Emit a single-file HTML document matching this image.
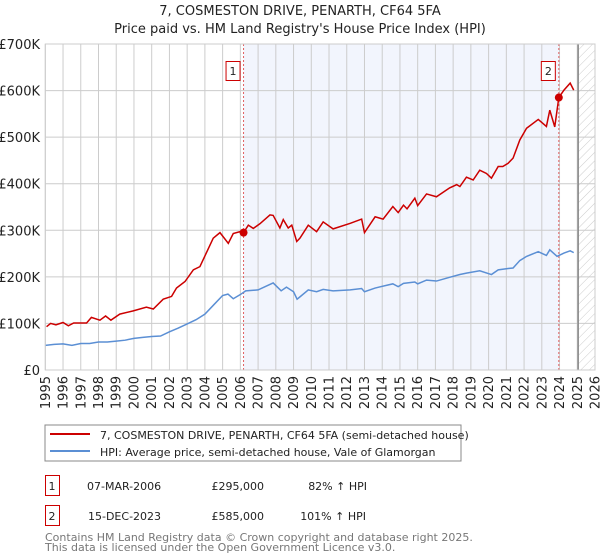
<!DOCTYPE html>
<html><head><meta charset="utf-8">
<style>
body{margin:0;background:#fff;width:600px;height:560px;overflow:hidden;font-family:"DejaVu Sans","Liberation Sans",sans-serif;}
svg{position:absolute;left:0;top:0}
text{font-family:"DejaVu Sans","Liberation Sans",sans-serif;}
</style></head>
<body>
<svg id="chart" width="600" height="560">
<defs>
<pattern id="hatch" width="6" height="6" patternUnits="userSpaceOnUse" patternTransform="rotate(45)">
<line x1="0" y1="0" x2="0" y2="6" stroke="#ccc" stroke-width="1"/>
</pattern>
</defs>
<text x="300" y="15" text-anchor="middle" font-size="13" fill="#222">7, COSMESTON DRIVE, PENARTH, CF64 5FA</text>
<text x="300" y="33" text-anchor="middle" font-size="13" fill="#222">Price paid vs. HM Land Registry's House Price Index (HPI)</text>
<g id="plot"></g>
<rect x="45" y="425" width="416" height="36" fill="#fff" stroke="#888"/>
<line x1="50" y1="434" x2="90" y2="434" stroke="#cc0000" stroke-width="2"/>
<text x="100" y="439" font-size="11" fill="#222">7, COSMESTON DRIVE, PENARTH, CF64 5FA (semi-detached house)</text>
<line x1="50" y1="451" x2="90" y2="451" stroke="#5b8fd4" stroke-width="2"/>
<text x="100" y="456" font-size="11" fill="#222">HPI: Average price, semi-detached house, Vale of Glamorgan</text>
<g>
<rect x="45.5" y="475.5" width="14" height="20" fill="#fff" stroke="#cc0000"/>
<text x="52" y="490" font-size="11" text-anchor="middle" fill="#222">1</text>
<text x="87" y="490" font-size="11" fill="#222">07-MAR-2006</text>
<text x="264" y="490" font-size="11" text-anchor="end" fill="#222">£295,000</text>
<text x="367" y="490" font-size="11" text-anchor="end" fill="#222">82% ↑ HPI</text>
</g>
<g>
<rect x="45.5" y="505.5" width="14" height="20" fill="#fff" stroke="#cc0000"/>
<text x="52" y="520" font-size="11" text-anchor="middle" fill="#222">2</text>
<text x="88" y="520" font-size="11" fill="#222">15-DEC-2023</text>
<text x="264" y="520" font-size="11" text-anchor="end" fill="#222">£585,000</text>
<text x="366" y="520" font-size="11" text-anchor="end" fill="#222">101% ↑ HPI</text>
</g>
<text x="45" y="541" font-size="11" fill="#777">Contains HM Land Registry data © Crown copyright and database right 2025.</text>
<text x="45" y="551" font-size="11" fill="#777">This data is licensed under the Open Government Licence v3.0.</text>
</svg>
<script>
const yTicks=[0,100,200,300,400,500,600,700];
const yTickLabels=["£0","£100K","£200K","£300K","£400K","£500K","£600K","£700K"];
const xYears=[1995,1996,1997,1998,1999,2000,2001,2002,2003,2004,2005,2006,2007,2008,2009,2010,2011,2012,2013,2014,2015,2016,2017,2018,2019,2020,2021,2022,2023,2024,2025,2026];
const saleYears=[2006.18,2023.96];
const saleValues=[295,585];
const saleLabels=["1","2"];
const dataEndYear=2025.05;
const redYears=[1995.07,1995.3,1995.6,1996.0,1996.3,1996.6,1997.33,1997.6,1998.08,1998.4,1998.7,1999.2,1999.96,2000.7,2001.09,2001.65,2002.12,2002.4,2002.88,2003.35,2003.72,2004.47,2004.85,2005.32,2005.6,2005.98,2006.18,2006.45,2006.73,2007.1,2007.67,2007.85,2008.23,2008.42,2008.7,2008.9,2009.18,2009.36,2009.83,2010.3,2010.67,2011.23,2012.2,2012.84,2013.0,2013.6,2014.05,2014.6,2014.9,2015.2,2015.4,2015.84,2016.0,2016.5,2017.06,2017.8,2018.2,2018.38,2018.75,2019.13,2019.5,2019.88,2020.16,2020.54,2020.8,2021.1,2021.38,2021.76,2022.14,2022.8,2023.26,2023.45,2023.73,2023.96,2024.25,2024.6,2024.8];
const redValues=[93,100,97,102,95,101,101,113,107,116,107,120,127,135,131,152,158,176,190,215,222,283,295,272,293,297,295,311,304,314,333,332,305,323,305,311,276,283,311,297,318,303,315,324,295,329,324,351,338,354,346,369,353,378,372,391,398,394,414,408,429,422,412,437,437,444,455,494,519,538,523,558,522,585,601,616,601];
const blueYears=[1995,1995.5,1996,1996.5,1997,1997.5,1998,1998.5,1999,1999.5,2000,2000.5,2001,2001.5,2002,2002.5,2003,2003.5,2004,2004.5,2005,2005.3,2005.6,2006,2006.3,2007,2007.85,2008.3,2008.6,2009,2009.2,2009.36,2009.83,2010.3,2010.67,2011.23,2012.2,2012.84,2013.0,2013.6,2014.6,2014.9,2015.2,2015.84,2016.0,2016.5,2017.06,2017.8,2018.38,2018.75,2019.5,2020.16,2020.54,2021.1,2021.38,2021.76,2022.14,2022.8,2023.26,2023.45,2023.86,2024.25,2024.6,2024.8];
const blueValues=[53,55,56,53,57,57,60,60,62,64,68,70,72,73,82,90,99,108,120,140,160,163,153,162,170,172,187,170,178,168,152,157,172,168,173,170,172,175,168,176,185,179,186,189,185,193,191,199,205,208,213,205,215,218,219,235,244,254,246,258,244,251,256,252];

const NS="http://www.w3.org/2000/svg";
const L=45.3,R=595,T=44,B=370;
const xS=y=>L+(y-1995)*(R-L)/31;
const yS=v=>B-v*(B-T)/700;
const g=document.getElementById('plot');
function mk(tag,attrs,parent){const e=document.createElementNS(NS,tag);for(const k in attrs)e.setAttribute(k,attrs[k]);(parent||g).appendChild(e);return e;}

const bg=mk('rect',{x:xS(saleYears[0]),y:T,width:xS(saleYears[1])-xS(saleYears[0]),height:B-T,fill:'#f2f5fd'});


const ht=mk('rect',{x:xS(dataEndYear),y:T,width:R-xS(dataEndYear),height:B-T,fill:'url(#hatch)'});



xYears.forEach(yr=>{
  const ln=mk('line',{x1:xS(yr),x2:xS(yr),y1:T,y2:B,stroke:'#cccccc','stroke-width':1});
  
  
  const t=mk('text',{x:0,y:0,'font-size':13,fill:'#222','text-anchor':'end',transform:`translate(${xS(yr)+4.5},${B+6}) rotate(-90)`});
  t.textContent=yr;
  
  
});
yTicks.forEach((v,i)=>{
  const ln=mk('line',{x1:L,x2:R,y1:yS(v),y2:yS(v),stroke:'#cccccc','stroke-width':1});
  
  
  const t=mk('text',{x:40,y:yS(v)+5,'font-size':13,fill:'#222','text-anchor':'end'});
  t.textContent=yTickLabels[i];
  
  
});
const endLine=mk('line',{x1:xS(dataEndYear),x2:xS(dataEndYear),y1:T,y2:B,stroke:'#888','stroke-width':1.5});



saleYears.forEach((yr,i)=>{
  const v=mk('line',{x1:xS(yr),x2:xS(yr),y1:T,y2:B,stroke:'#e06060','stroke-width':1,'stroke-dasharray':'2,2'});
  
  
});

const bl=mk('polyline',{points:blueYears.map((y,i)=>xS(y)+','+yS(blueValues[i])).join(' '),fill:'none',stroke:'#5b8fd4','stroke-width':1.5});


const rl=mk('polyline',{points:redYears.map((y,i)=>xS(y)+','+yS(redValues[i])).join(' '),fill:'none',stroke:'#cc0000','stroke-width':1.5});



saleYears.forEach((yr,i)=>{
  const c=mk('circle',{cx:xS(yr),cy:yS(saleValues[i]),r:4,fill:'#cc0000'});
  
  
  const bx=mk('rect',{x:xS(yr)-17.5,y:61.5,width:14,height:19,fill:'#fff',stroke:'#cc0000'});
  
  
  const t=mk('text',{x:xS(yr)-10.5,y:75,'font-size':11,'text-anchor':'middle',fill:'#222'});
  t.textContent=saleLabels[i];
  
  
});
const frame=mk('rect',{x:L,y:T,width:R-L,height:B-T,fill:'none',stroke:'#cccccc'});


</script>
</body></html>
